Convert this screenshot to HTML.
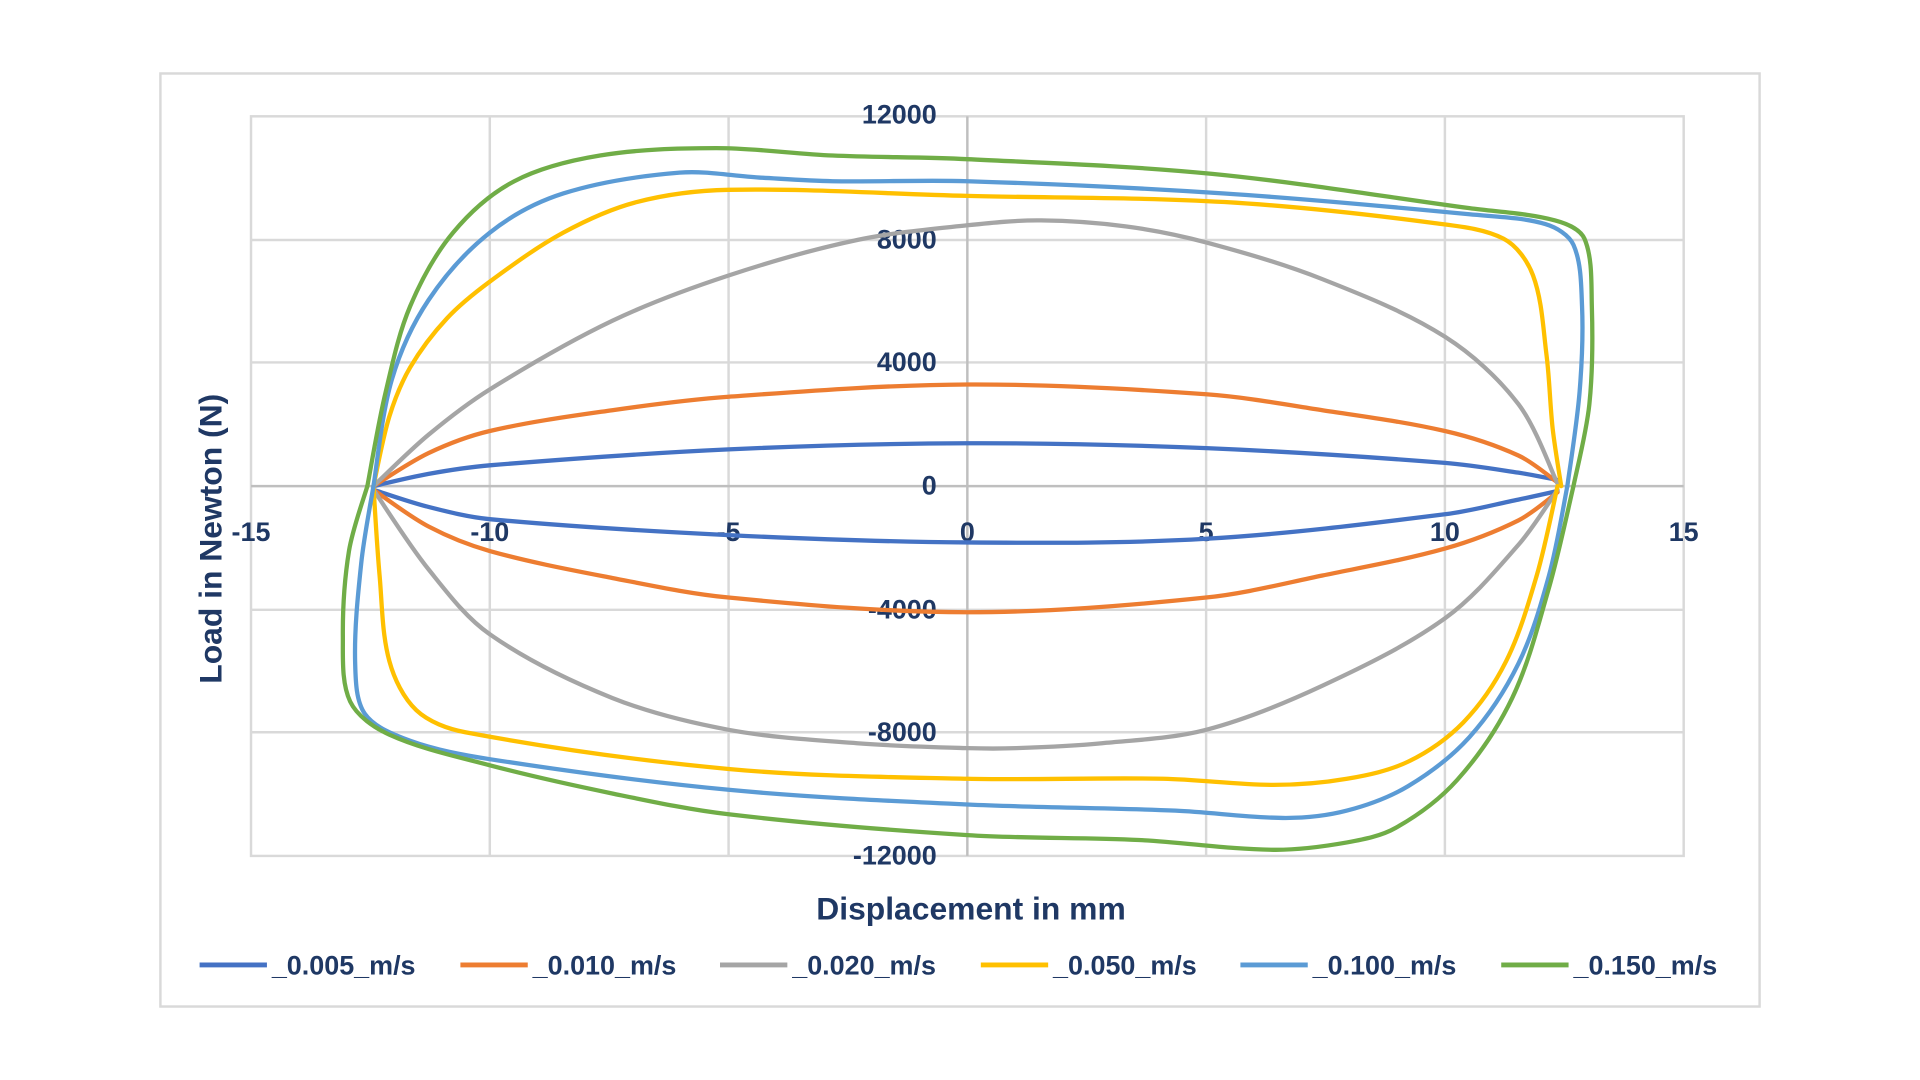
<!DOCTYPE html>
<html><head><meta charset="utf-8"><style>
html,body{margin:0;padding:0;background:#fff;}
svg{display:block;}
text{font-family:"Liberation Sans",sans-serif;font-weight:bold;fill:#1F3864;}
</style></head><body>
<svg id="s" width="1920" height="1080" viewBox="0 0 1568 882" preserveAspectRatio="none" xmlns="http://www.w3.org/2000/svg">
<rect x="131" y="60" width="1306" height="762" fill="#fff" stroke="#d9d9d9" stroke-width="2"/>
<g stroke="#d9d9d9" stroke-width="2" fill="none">
<rect x="205" y="95" width="1170" height="604"/>
<line x1="400" y1="95" x2="400" y2="699"/><line x1="595" y1="95" x2="595" y2="699"/>
<line x1="985" y1="95" x2="985" y2="699"/><line x1="1180" y1="95" x2="1180" y2="699"/>
<line x1="205" y1="196" x2="1375" y2="196"/><line x1="205" y1="296" x2="1375" y2="296"/>
<line x1="205" y1="498" x2="1375" y2="498"/><line x1="205" y1="598" x2="1375" y2="598"/>
</g>
<g stroke="#bfbfbf" stroke-width="2"><line x1="790" y1="95" x2="790" y2="699"/><line x1="205" y1="397" x2="1375" y2="397"/></g>
<g font-size="22" text-anchor="end">
<text x="765" y="101">12000</text><text x="765" y="203">8000</text><text x="765" y="303">4000</text>
<text x="765" y="404">0</text><text x="765" y="505">-4000</text><text x="765" y="605">-8000</text><text x="765" y="706">-12000</text>
</g>
<g font-size="22" text-anchor="middle">
<text x="205" y="442">-15</text><text x="400" y="442">-10</text><text x="595" y="442">-5</text><text x="790" y="442">0</text>
<text x="985" y="442">5</text><text x="1180" y="442">10</text><text x="1375" y="442">15</text>
</g>
<text x="793" y="751" font-size="26" text-anchor="middle">Displacement in mm</text>
<text transform="translate(181,440) rotate(-90)" font-size="26" text-anchor="middle">Load in Newton (N)</text>
<g id="curves" fill="none" stroke-width="3.5" stroke-linejoin="round" stroke-linecap="round"></g>
<g stroke-width="4">
<line x1="163" y1="788" x2="218" y2="788" stroke="#4472C4"/>
<line x1="376" y1="788" x2="431" y2="788" stroke="#ED7D31"/>
<line x1="588" y1="788" x2="643" y2="788" stroke="#A5A5A5"/>
<line x1="801" y1="788" x2="856" y2="788" stroke="#FFC000"/>
<line x1="1013" y1="788" x2="1068" y2="788" stroke="#5B9BD5"/>
<line x1="1226" y1="788" x2="1281" y2="788" stroke="#70AD47"/>
</g>
<g font-size="22">
<text x="222" y="796">_0.005_m/s</text><text x="435" y="796">_0.010_m/s</text><text x="647" y="796">_0.020_m/s</text>
<text x="860" y="796">_0.050_m/s</text><text x="1072" y="796">_0.100_m/s</text><text x="1285" y="796">_0.150_m/s</text>
</g>
</svg>
<script>
function dist(a,b){return Math.hypot(a[0]-b[0],a[1]-b[1]);}
function cr(p){var d="M"+p[0][0]+","+p[0][1];for(var i=0;i<p.length-1;i++){var p0=p[i-1]||p[i],p1=p[i],p2=p[i+1],p3=p[i+2]||p2;
var d01=dist(p0,p1)||dist(p1,p2),d12=dist(p1,p2),d23=dist(p2,p3)||d12;
var k1=d12/(d01+d12)/3,k2=d12/(d12+d23)/3;
var c1=[p1[0]+(p2[0]-p0[0])*k1,p1[1]+(p2[1]-p0[1])*k1],c2=[p2[0]-(p3[0]-p1[0])*k2,p2[1]-(p3[1]-p1[1])*k2];
d+=" C"+c1.map(function(v){return v.toFixed(1)}).join(",")+" "+c2.map(function(v){return v.toFixed(1)}).join(",")+" "+p2.join(",");}return d;}
var S=[
["#4472C4",[[305,397],[350,387],[400,380],[595,367],[790,362],[985,366],[1180,378],[1240,386],[1272,392]],[[305,400],[350,414],[400,424],[595,437],[790,443],[985,440],[1180,420],[1240,408],[1272,401]]],
["#ED7D31",[[305,397],[350,370],[400,352],[500,335],[595,324],[790,314],[985,322],[1080,335],[1180,352],[1240,372],[1272,394]],[[305,400],[350,430],[400,450],[500,472],[595,488],[790,500],[985,488],[1080,470],[1180,448],[1240,425],[1272,402]]],
["#A5A5A5",[[305,397],[350,355],[400,318],[500,262],[595,225],[700,196],[790,184],[850,180],[920,185],[985,198],[1080,228],[1180,275],[1240,330],[1272,395]],[[305,400],[350,465],[400,518],[500,570],[595,596],[700,607],[790,611],[830,611],[900,607],[985,596],[1080,560],[1180,505],[1240,445],[1272,400]]],
["#FFC000",[[305,397],[318,340],[335,300],[365,260],[400,230],[460,190],[520,165],[595,155],[790,160],[1000,165],[1170,182],[1228,195],[1252,225],[1263,290],[1268,350],[1275,397]],[[305,397],[310,470],[318,540],[340,580],[380,598],[595,628],[790,636],[950,636],[1040,641],[1100,636],[1150,622],[1195,590],[1230,540],[1255,470],[1272,397]]],
["#5B9BD5",[[305,397],[320,310],[350,245],[400,190],[460,158],[555,141],[620,145],[680,148],[790,148],[1000,158],[1200,175],[1262,183],[1285,200],[1292,250],[1290,320],[1280,397]],[[305,397],[295,460],[290,540],[298,583],[335,605],[400,620],[595,645],[790,657],[960,662],[1050,668],[1100,662],[1150,642],[1200,602],[1240,542],[1265,470],[1280,397]]],
["#70AD47",[[300,397],[315,320],[335,250],[370,190],[420,148],[490,127],[585,121],[680,127],[790,130],[990,142],[1200,170],[1270,180],[1294,195],[1300,250],[1298,330],[1285,397]],[[300,397],[285,450],[280,520],[286,573],[318,600],[400,625],[500,648],[595,665],[790,682],[930,686],[1040,694],[1100,688],[1140,676],[1190,637],[1235,570],[1265,480],[1285,397]]]
];
var g=document.getElementById("curves"),h="";
S.forEach(function(s){h+='<path stroke="'+s[0]+'" d="'+cr(s[1])+'"/><path stroke="'+s[0]+'" d="'+cr(s[2])+'"/>';});
g.innerHTML=h;
</script>
</body></html>
